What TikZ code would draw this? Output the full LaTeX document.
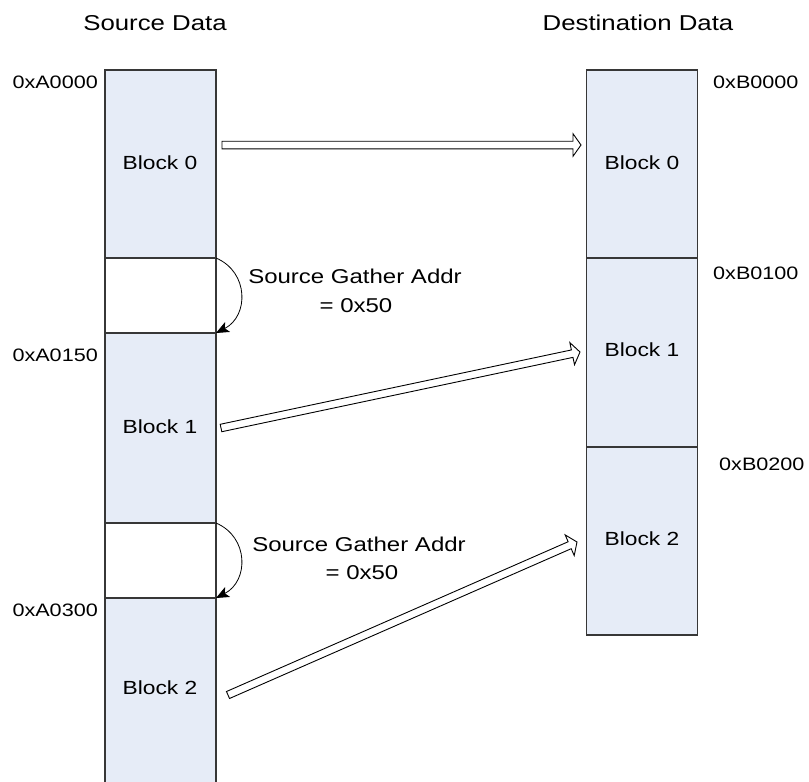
\documentclass[tikz,border=0pt]{standalone}
\usepackage{fontspec}
\setmainfont{Liberation Sans}[FakeStretch=1.2]
\usetikzlibrary{calc,arrows.meta}

\definecolor{blockfill}{RGB}{230,236,247}
\definecolor{boxline}{RGB}{55,55,55}

\tikzset{
  membox/.style={draw=boxline, line width=1.1pt, minimum width=111pt,
                 inner sep=0pt, outer sep=0pt},
  datablk/.style={membox, fill=blockfill},
  gapblk/.style={membox, fill=white},
  addr/.style={font=\fontsize{18}{21}\selectfont, inner sep=0pt},
  blklbl/.style={font=\fontsize{19}{22}\selectfont, inner sep=0pt, anchor=base},
  hdr/.style={font=\fontsize{21.5}{25}\selectfont, inner sep=0pt, anchor=base},
  note/.style={font=\fontsize{20}{24}\selectfont, inner sep=0pt, anchor=base},
  skiparrow/.style={line width=0.8pt, -{Stealth[length=13pt,width=11pt,inset=3pt]}},
  transfer/.style={draw=black, line width=0.9pt, fill=white, line join=miter},
}

% hollow block arrow from tail #1 to tip #2
\newcommand\transferarrow[2]{%
  \coordinate (mvH) at ($(#2)!8pt!(#1)$);
  \draw[transfer] ($(#1)!3.8pt!90:(#2)$) -- ($(mvH)!3.8pt!90:(#2)$)
    -- ($(mvH)!11.3pt!90:(#2)$) -- (#2) -- ($(mvH)!11.3pt!-90:(#2)$)
    -- ($(mvH)!3.8pt!-90:(#2)$) -- ($(#1)!3.8pt!-90:(#2)$) -- cycle;}

\begin{document}
\begin{tikzpicture}[x=1pt, y=-1pt]
\useasboundingbox (0,0) rectangle (809,782);

% column headers
\node[hdr] (hsrc) at (155,30) {Source Data};
\node[hdr] (hdst) at (638,30) {Destination Data};

% source memory
\node[datablk, minimum height=188pt] (s0) at (160.5,164) {};
\node[gapblk,  minimum height=75pt]  (g0) at (160.5,295.5) {};
\node[datablk, minimum height=190pt] (s1) at (160.5,428) {};
\node[gapblk,  minimum height=75pt]  (g1) at (160.5,560.5) {};
\node[datablk, minimum height=202pt] (s2) at (160.5,699) {};

% destination memory
\node[datablk, minimum height=188pt] (d0) at (642,164) {};
\node[datablk, minimum height=189pt] (d1) at (642,352.5) {};
\node[datablk, minimum height=188pt] (d2) at (642,541) {};

% block labels
\node[blklbl] (ls0) at (160,169) {Block 0};
\node[blklbl] (ls1) at (160,433) {Block 1};
\node[blklbl] (ls2) at (160,694) {Block 2};
\node[blklbl] (ld0) at (642,169) {Block 0};
\node[blklbl] (ld1) at (642,356) {Block 1};
\node[blklbl] (ld2) at (642,545) {Block 2};

% addresses
\node[addr, anchor=base east] (aA0) at (98,88)  {0xA0000};
\node[addr, anchor=base east] (aA1) at (98,361) {0xA0150};
\node[addr, anchor=base east] (aA2) at (98,616) {0xA0300};
\node[addr, anchor=base west] (aB0) at (713,88)  {0xB0000};
\node[addr, anchor=base west] (aB1) at (713,279) {0xB0100};
\node[addr, anchor=base west] (aB2) at (719,470) {0xB0200};

% gather skips
\draw[skiparrow] (s0.south east) .. controls (249,272) and (249,316) .. (s1.north east);
\draw[skiparrow] (s1.south east) .. controls (249,537) and (249,581) .. (s2.north east);
\node[note] (n0a) at (355,283) {Source Gather Addr};
\node[note] (n0b) at (356,312) {= 0x50};
\node[note] (n1a) at (359,551) {Source Gather Addr};
\node[note] (n1b) at (362,579) {= 0x50};

% copy arrows
\coordinate (t0) at (222,145); \coordinate (h0) at (581,145);
\coordinate (t1) at (221,428); \coordinate (h1) at (580,352);
\coordinate (t2) at (228,695); \coordinate (h2) at (577,542);
\transferarrow{t0}{h0}
\transferarrow{t1}{h1}
\transferarrow{t2}{h2}
\end{tikzpicture}
\end{document}
